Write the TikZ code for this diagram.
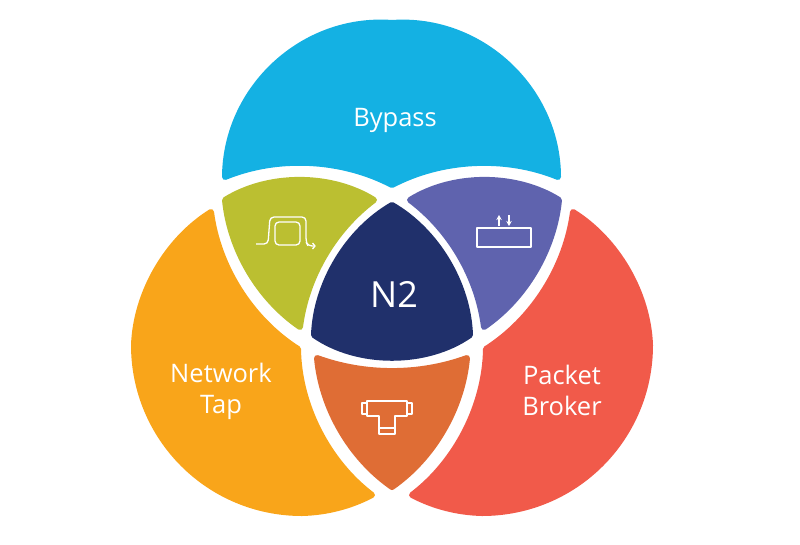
\documentclass[tikz,border=0pt]{standalone}
\usepackage{fontspec}
\setmainfont{Open Sans}
\usepackage{xcolor}
\usetikzlibrary{arrows.meta}

\definecolor{bypassblue}{HTML}{14B1E3}
\definecolor{tapyellow}{HTML}{F9A51A}
\definecolor{brokerred}{HTML}{F15A4A}
\definecolor{oliveleaf}{HTML}{BBBF31}
\definecolor{violetleaf}{HTML}{5F63AE}
\definecolor{rustleaf}{HTML}{DF6D35}
\definecolor{navycore}{HTML}{20306B}

\tikzset{
  region/.style={fill=#1, draw=#1, line width=6pt, line join=round},
  vex/.style={bend left=#1, looseness=0.87},
  cave/.style={bend right=#1, looseness=0.87},
  icon/.style={draw=white, line width=1.3pt, line join=round},
  caption/.style={text=white, align=center, font=\fontsize{25.5}{31}\selectfont},
}

\begin{document}
\begin{tikzpicture}[x=1pt, y=-1pt]
\useasboundingbox (0,0) rectangle (800,544);

% Outer lobes
\path[region=bypassblue] (225,177) to[bend left=47] (392,23) to[bend left=47] (558,177)
  to[cave=25] (392,185) to[cave=25] cycle;
\path[region=tapyellow] (372,495) to[vex=13] (302,513) to[bend left=45] (134,345)
  to[vex=28] (211,212) to[cave=25] (298,349) to[cave=26] cycle;
\path[region=brokerred] (412,495) to[cave=26] (486,349) to[cave=25] (573,212)
  to[vex=28] (650,345) to[bend left=45] (482,513) to[vex=13] cycle;

% Overlap regions
\path[region=oliveleaf] (225,200) to[vex=32] (374,200) to[cave=23] (300,327) to[vex=25] cycle;
\path[region=violetleaf] (410,200) to[vex=32] (559,200) to[vex=25] (484,327) to[cave=23] cycle;
\path[region=rustleaf] (317,358) to[cave=20] (467,358) to[vex=25] (392,487) to[vex=25] cycle;
\path[region=navycore] (392,205) to[vex=29] (470,335) to[vex=35] (314,335) to[vex=29] cycle;

% Labels
\node[caption] (bypass) at (395,120) {Bypass};
\node[caption] (tap) at (221,391) {Network\\Tap};
\node[caption] (broker) at (562,390) {Packet\\Broker};
\node[text=white, font=\fontsize{36}{36}\selectfont] (core) at (394,294) {N2};

% Loop icon
\draw[icon, rounded corners=4pt] (256,244) -- (268,244) -- (270,217) -- (306,217) -- (306,242) -- (308,246) -- (315,246);
\draw[icon] (312.5,243) -- (315,246) -- (312.5,249);
\draw[icon, rounded corners=4pt] (275,222) rectangle (300,245);

% Bidirectional port icon
\draw[icon] (477,228) rectangle (531,247);
\draw[icon, -{Stealth[length=5pt,width=5.5pt]}] (499,226) -- (499,215);
\draw[icon, -{Stealth[length=5pt,width=5.5pt]}] (509,215) -- (509,226);

% Tee fitting icon
\draw[icon] (367,401) -- (407,401) -- (407,416) -- (395,416) -- (395,428) -- (379,428) -- (379,416) -- (367,416) -- cycle;
\draw[icon] (362,403) rectangle (367,414);
\draw[icon] (407,403) rectangle (412,414);
\draw[icon] (379,428) rectangle (395,434);

\end{tikzpicture}
\end{document}
